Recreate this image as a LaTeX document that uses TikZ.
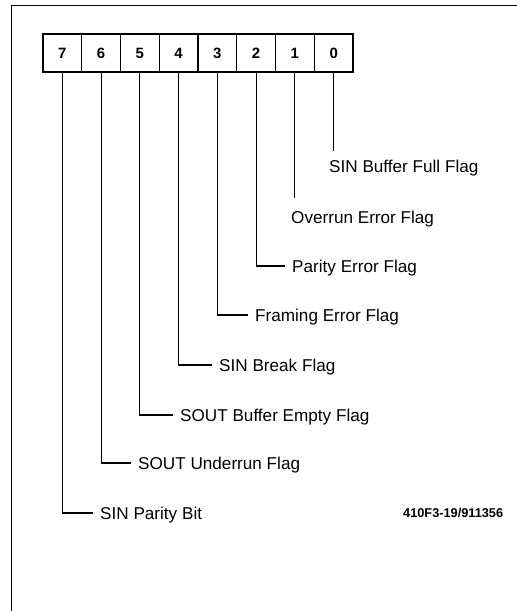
\documentclass[tikz,border=0pt]{standalone}
\usepackage{fontspec}
\setmainfont{Liberation Sans}
\usetikzlibrary{calc}
\begin{document}
\begin{tikzpicture}[x=1bp,y=-1bp,
  cell/.style={draw,line width=1.3bp,minimum width=38.75bp,minimum height=38bp,inner sep=0,outer sep=0,font=\fontsize{15}{15}\selectfont\bfseries},
  lbl/.style={anchor=west,inner sep=0,text height=12bp,text depth=0bp,font=\fontsize{17.2}{17}\selectfont},
  conn/.style={line width=1.1bp},
  frame/.style={line width=0.8bp}]
\useasboundingbox (0,0) rectangle (517,611);
\draw[frame] (11,611) -- (11,5) -- (517,5);
\foreach \i [count=\k from 0] in {7,6,5,4,3,2,1,0}{
  \node[cell] (b\i) at (62.4+38.75*\k,53) {\i};
}
\node[lbl] (l0) at (329,167) {SIN Buffer Full Flag};
\node[lbl] (l1) at (291,217) {Overrun Error Flag};
\node[lbl] (l2) at (292,266) {Parity Error Flag};
\node[lbl] (l3) at (255,315) {Framing Error Flag};
\node[lbl] (l4) at (219,365) {SIN Break Flag};
\node[lbl] (l5) at (180,415) {SOUT Buffer Empty Flag};
\node[lbl] (l6) at (138,463) {SOUT Underrun Flag};
\node[lbl] (l7) at (100,513) {SIN Parity Bit};
\node[anchor=west,inner sep=0,font=\fontsize{12.8}{12}\selectfont\bfseries] (code) at (403,513) {410F3-19/911356};
\draw[conn] (b0.south) -- ($(b0.south |- l0.north)+(0,-10)$);
\draw[conn] (b1.south) -- ($(b1.south |- l1.north)+(0,-13)$);
\foreach \i in {2,...,7}{
  \draw[conn] (b\i.south) |- ($(l\i.west)+(-7,0)$);
}
\end{tikzpicture}
\end{document}
